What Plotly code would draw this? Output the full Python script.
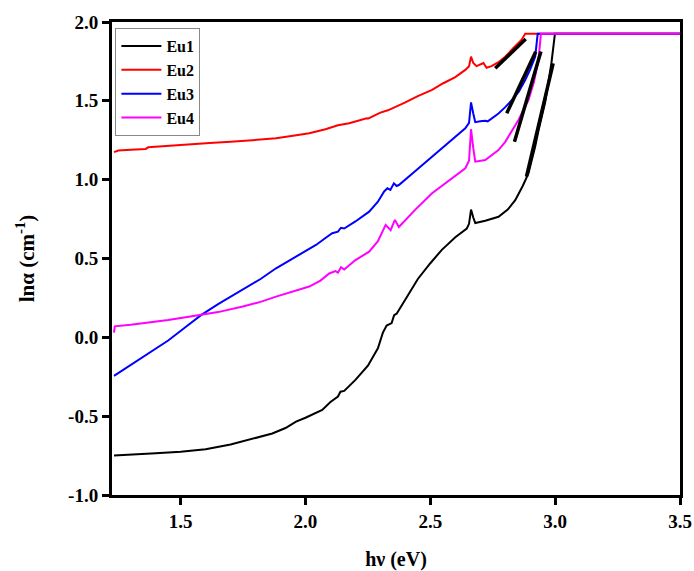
import plotly.graph_objects as go

# Absorption coefficient (ln alpha) versus photon energy for the four samples
eu1_x = [1.233, 1.30, 1.40, 1.50, 1.60, 1.70, 1.75, 1.80, 1.867, 1.92, 1.962, 2.00, 2.04, 2.067,
         2.10, 2.12, 2.13, 2.14, 2.155, 2.20, 2.25, 2.29, 2.31, 2.325, 2.345, 2.355, 2.365, 2.40,
         2.45, 2.50, 2.546, 2.60, 2.646, 2.655, 2.663, 2.672, 2.68, 2.72, 2.773, 2.81, 2.84, 2.87,
         2.893, 2.92, 2.933, 2.96, 2.985, 2.999, 3.5]
eu1_y = [-0.75, -0.745, -0.735, -0.725, -0.71, -0.68, -0.66, -0.64, -0.61, -0.575, -0.535, -0.51,
         -0.48, -0.46, -0.41, -0.385, -0.375, -0.345, -0.34, -0.27, -0.18, -0.07, 0.03, 0.075, 0.09,
         0.14, 0.15, 0.24, 0.37, 0.47, 0.555, 0.635, 0.69, 0.72, 0.81, 0.76, 0.725, 0.74, 0.765,
         0.81, 0.87, 0.96, 1.04, 1.21, 1.31, 1.49, 1.74, 1.925, 1.925]

eu2_x = [1.233, 1.25, 1.30, 1.36, 1.37, 1.45, 1.55, 1.616, 1.70, 1.80, 1.882, 1.95, 2.015, 2.08,
         2.13, 2.175, 2.21, 2.235, 2.245, 2.25, 2.30, 2.33, 2.345, 2.361, 2.40, 2.45, 2.507, 2.55,
         2.60, 2.64, 2.655, 2.663, 2.672, 2.685, 2.70, 2.713, 2.725, 2.745, 2.773, 2.80, 2.83,
         2.865, 2.88, 3.5]
eu2_y = [1.175, 1.185, 1.19, 1.195, 1.205, 1.215, 1.225, 1.232, 1.24, 1.252, 1.262, 1.278, 1.294,
         1.32, 1.345, 1.358, 1.372, 1.385, 1.39, 1.387, 1.425, 1.44, 1.45, 1.463, 1.49, 1.53, 1.569,
         1.61, 1.65, 1.696, 1.72, 1.78, 1.74, 1.72, 1.73, 1.74, 1.71, 1.72, 1.745, 1.78, 1.83,
         1.886, 1.925, 1.925]

eu3_x = [1.233, 1.30, 1.377, 1.45, 1.52, 1.583, 1.65, 1.749, 1.82, 1.882, 1.975, 2.042, 2.08,
         2.107, 2.13, 2.142, 2.155, 2.20, 2.255, 2.29, 2.315, 2.328, 2.34, 2.354, 2.365, 2.374,
         2.44, 2.507, 2.57, 2.64, 2.655, 2.663, 2.672, 2.68, 2.70, 2.72, 2.73, 2.773, 2.80, 2.827,
         2.855, 2.88, 2.90, 2.92, 2.93, 3.5]
eu3_y = [-0.245, -0.175, -0.10, -0.02, 0.065, 0.142, 0.21, 0.30, 0.37, 0.438, 0.525, 0.586, 0.63,
         0.66, 0.67, 0.695, 0.69, 0.735, 0.797, 0.86, 0.925, 0.945, 0.935, 0.977, 0.96, 0.966,
         1.055, 1.146, 1.23, 1.326, 1.36, 1.49, 1.42, 1.365, 1.37, 1.374, 1.37, 1.42, 1.46, 1.505,
         1.56, 1.632, 1.70, 1.78, 1.925, 1.925]

eu4_x = [1.233, 1.236, 1.30, 1.377, 1.45, 1.52, 1.583, 1.65, 1.749, 1.82, 1.882, 1.95, 2.015, 2.06,
         2.095, 2.12, 2.13, 2.142, 2.155, 2.20, 2.255, 2.29, 2.321, 2.341, 2.358, 2.374, 2.44,
         2.507, 2.57, 2.64, 2.655, 2.663, 2.672, 2.68, 2.72, 2.773, 2.80, 2.827, 2.853, 2.893,
         2.915, 2.933, 2.943, 3.5]
eu4_y = [0.03, 0.07, 0.08, 0.093, 0.11, 0.128, 0.142, 0.16, 0.195, 0.225, 0.258, 0.29, 0.322, 0.36,
         0.405, 0.42, 0.41, 0.445, 0.43, 0.49, 0.543, 0.61, 0.713, 0.68, 0.745, 0.70, 0.81, 0.914,
         0.99, 1.072, 1.12, 1.32, 1.2, 1.114, 1.125, 1.188, 1.24, 1.315, 1.378, 1.505, 1.62, 1.759,
         1.925, 1.925]

# Linear fits of the absorption edge (start and end points)
fit_x = [[2.885, 2.992], [2.76, 2.882], [2.806, 2.922], [2.837, 2.943]]
fit_y = [[1.019, 1.738], [1.706, 1.892], [1.421, 1.812], [1.241, 1.813]]

names = ["Eu1", "Eu2", "Eu3", "Eu4"]
colors = ["#000000", "#ff0000", "#0000ff", "#ff00ff"]
xs = [eu1_x, eu2_x, eu3_x, eu4_x]
ys = [eu1_y, eu2_y, eu3_y, eu4_y]

x_ticks = [1.5, 2.0, 2.5, 3.0, 3.5]
x_ticktext = ["1.5", "2.0", "2.5", "3.0", "3.5"]
y_ticks = [-1.0, -0.5, 0.0, 0.5, 1.0, 1.5, 2.0]
y_ticktext = ["-1.0", "-0.5", "0.0", "0.5", "1.0", "1.5", "2.0"]

fig = go.Figure()
for name, col, x, y in zip(names, colors, xs, ys):
    fig.add_trace(go.Scatter(x=x, y=y, mode="lines", name=name,
                             line=dict(color=col, width=2)))
for fx, fy in zip(fit_x, fit_y):
    fig.add_trace(go.Scatter(x=fx, y=fy, mode="lines", showlegend=False,
                             line=dict(color="#000000", width=3.5)))

font_family = "Liberation Serif, Times New Roman, serif"
axis_common = dict(showline=True, linecolor="black", linewidth=3, mirror=True,
                   ticks="outside", ticklen=7, tickwidth=2.5, tickcolor="black",
                   showgrid=False, zeroline=False, automargin=False,
                   tickfont=dict(family=font_family, size=19, color="black", weight="bold"))

fig.update_layout(
    width=694, height=571,
    margin=dict(l=112, r=14, t=22, b=76),
    paper_bgcolor="white", plot_bgcolor="white",
    font=dict(family=font_family, color="black"),
    xaxis=dict(range=[1.225, 3.5], tickvals=x_ticks, ticktext=x_ticktext,
               title=dict(text="<b>hν (eV)</b>", font=dict(size=20, family=font_family), standoff=24),
               **axis_common),
    yaxis=dict(range=[-1.0, 2.0], tickvals=y_ticks, ticktext=y_ticktext,
               title=dict(text="<b>lnα (cm<sup>-1</sup>)</b>", font=dict(size=21, family=font_family), standoff=28),
               **axis_common),
    legend=dict(x=0.006, y=0.987, xanchor="left", yanchor="top",
                bgcolor="white", bordercolor="#888888", borderwidth=1,
                font=dict(family=font_family, size=16, color="black", weight="bold"),
                tracegroupgap=0, itemwidth=40),
    showlegend=True,
)

fig.write_html("out.html")
